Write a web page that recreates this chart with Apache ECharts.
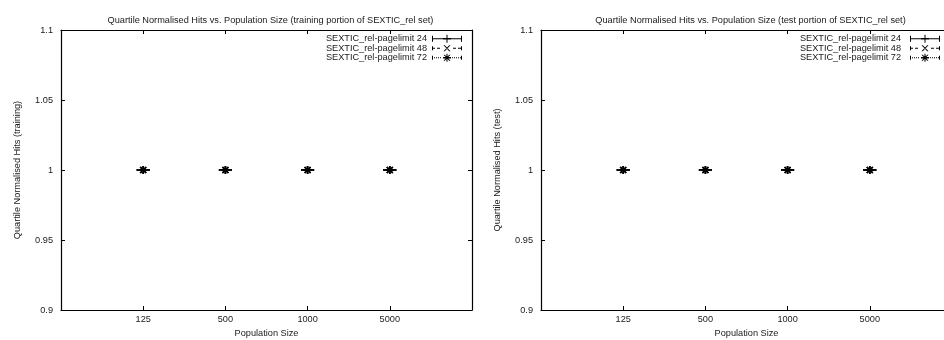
<!DOCTYPE html>
<html>
<head>
<meta charset="utf-8">
<script src="https://cdn.jsdelivr.net/npm/echarts@6/dist/echarts.min.js"></script>
<style>
html,body{margin:0;padding:0;background:#fff;}
#chart{width:944px;height:340px;}
</style>
</head>
<body>
<div id="chart"></div>
<script>
// ---- data ----
const popLabels = ['125', '500', '1000', '5000'];
const popIndex = [1, 2, 3, 4];
const seriesNames = ['SEXTIC_rel-pagelimit 24', 'SEXTIC_rel-pagelimit 48', 'SEXTIC_rel-pagelimit 72'];
// training panel
const trainPL24 = [1, 1, 1, 1];
const trainPL48 = [1, 1, 1, 1];
const trainPL72 = [1, 1, 1, 1];
const trainLow24 = [1, 1, 1, 1], trainHigh24 = [1, 1, 1, 1];
const trainLow48 = [1, 1, 1, 1], trainHigh48 = [1, 1, 1, 1];
const trainLow72 = [1, 1, 1, 1], trainHigh72 = [1, 1, 1, 1];
// test panel
const testPL24 = [1, 1, 1, 1];
const testPL48 = [1, 1, 1, 1];
const testPL72 = [1, 1, 1, 1];
const testLow24 = [1, 1, 1, 1], testHigh24 = [1, 1, 1, 1];
const testLow48 = [1, 1, 1, 1], testHigh48 = [1, 1, 1, 1];
const testLow72 = [1, 1, 1, 1], testHigh72 = [1, 1, 1, 1];
const yTicks = [0.9, 0.95, 1, 1.05, 1.1];

const titles = [
  'Quartile Normalised Hits vs. Population Size (training portion of SEXTIC_rel set)',
  'Quartile Normalised Hits vs. Population Size (test portion of SEXTIC_rel set)'
];
const yNames = ['Quartile Normalised Hits (training)', 'Quartile Normalised Hits (test)'];
const xName = 'Population Size';

// ---- styling ----
const FONT = 'Liberation Sans, Arial, sans-serif';
const FS = 9.2;
const TXT = '#1a1a1a';

function rect(x, y, w, h) { return 'M' + x + ',' + y + 'h' + w + 'v' + h + 'h' + (-w) + 'Z'; }
function quad(a, b, c, d) { return 'M' + a + 'L' + b + 'L' + c + 'L' + d + 'Z'; }
const plusIcon = rect(14.5, 0, 1, 8) + rect(11, 3.3, 8, 1.4);
const crossIcon = quad('11.5,1', '12.8,1', '18.5,7', '17.2,7') + quad('17.2,1', '18.5,1', '12.8,7', '11.5,7');
const icon24 = 'path://' + rect(0, 3.5, 30, 1) + rect(0, 1, 1, 6) + rect(29, 1, 1, 6) + plusIcon;
let dash = '';
[0, 5, 21, 26].forEach(x => { dash += rect(x, 3.5, 3, 1); });
const icon48 = 'path://' + dash + rect(0, 2, 1, 4) + rect(29, 2, 1, 4) + rect(0, 0, 0.01, 8) + crossIcon;
let dots = '';
[0, 2, 4, 6, 8, 20, 22, 24, 26, 28].forEach(x => { dots += rect(x, 3.5, 1, 1); });
const icon72 = 'path://' + dots + rect(0, 2, 1, 4) + rect(29, 2, 1, 4) + rect(0, 0, 0.01, 8) + plusIcon + crossIcon;
const icons = [icon24, icon48, icon72];

function makeRender(kind, dashArr) {
  return function (params, api) {
    const x = api.value(0), y = api.value(1), lo = api.value(2), hi = api.value(3);
    const p = api.coord([x, y]);
    const pl = api.coord([x, lo]);
    const ph = api.coord([x, hi]);
    const cw = 6.5;
    const ls = { stroke: '#000', lineWidth: 1, fill: null, lineDash: dashArr };
    const ms = { stroke: '#000', lineWidth: 1.7, fill: null };
    const ch = [
      { type: 'line', shape: { x1: pl[0], y1: pl[1], x2: ph[0], y2: ph[1] }, style: ls },
      { type: 'line', shape: { x1: pl[0] - cw, y1: pl[1], x2: pl[0] + cw, y2: pl[1] }, style: ls },
      { type: 'line', shape: { x1: ph[0] - cw, y1: ph[1], x2: ph[0] + cw, y2: ph[1] }, style: ls }
    ];
    const s = 4, d = 3;
    if (kind === 'plus' || kind === 'star') {
      ch.push({ type: 'line', shape: { x1: p[0] - s, y1: p[1], x2: p[0] + s, y2: p[1] }, style: ms });
      ch.push({ type: 'line', shape: { x1: p[0], y1: p[1] - s, x2: p[0], y2: p[1] + s }, style: ms });
    }
    if (kind === 'cross' || kind === 'star') {
      ch.push({ type: 'line', shape: { x1: p[0] - d, y1: p[1] - d, x2: p[0] + d, y2: p[1] + d }, style: ms });
      ch.push({ type: 'line', shape: { x1: p[0] - d, y1: p[1] + d, x2: p[0] + d, y2: p[1] - d }, style: ms });
    }
    return { type: 'group', children: ch };
  };
}
const kinds = ['plus', 'cross', 'star'];
const dashes = [null, [3, 2], [1, 1]];

function rows(vals, lo, hi) {
  return popIndex.map((xi, i) => [xi, vals[i], lo[i], hi[i]]);
}
const panelData = [
  [rows(trainPL24, trainLow24, trainHigh24), rows(trainPL48, trainLow48, trainHigh48), rows(trainPL72, trainLow72, trainHigh72)],
  [rows(testPL24, testLow24, testHigh24), rows(testPL48, testLow48, testHigh48), rows(testPL72, testLow72, testHigh72)]
];

const gridLefts = [61, 541];
const gridW = 411, gridTop = 30, gridH = 280;

const grids = [], xAxes = [], yAxes = [], series = [], titleArr = [], legends = [];
const tickStyle = { show: true, inside: true, length: 4, lineStyle: { color: '#000', width: 1 } };
const axLine = { show: true, onZero: false, lineStyle: { color: '#000', width: 1.2 } };

for (let g = 0; g < 2; g++) {
  grids.push({ left: gridLefts[g], top: gridTop, width: gridW, height: gridH, containLabel: false, outerBoundsMode: 'none' });
  titleArr.push({
    text: titles[g], left: gridLefts[g] + gridW / 2 - 1, top: 11, textAlign: 'center',
    textStyle: { fontFamily: FONT, fontSize: FS, fontWeight: 'normal', color: TXT }
  });
  // bottom x
  xAxes.push({
    type: 'value', gridIndex: g, position: 'bottom', min: 0, max: popLabels.length + 1, interval: 1,
    name: xName, nameLocation: 'middle', nameGap: 18,
    nameTextStyle: { fontFamily: FONT, fontSize: FS, color: TXT },
    axisLine: axLine, axisTick: tickStyle, splitLine: { show: false },
    axisLabel: {
      fontFamily: FONT, fontSize: FS, color: TXT, margin: 5,
      formatter: v => { const i = popIndex.indexOf(v); return i >= 0 ? popLabels[i] : ''; }
    }
  });
  // top x (ticks only)
  xAxes.push({
    type: 'value', gridIndex: g, position: 'top', min: 0, max: popLabels.length + 1, interval: 1,
    axisLine: axLine, axisTick: tickStyle, splitLine: { show: false }, axisLabel: { show: false }
  });
  yAxes.push({
    type: 'value', gridIndex: g, position: 'left', min: yTicks[0], max: yTicks[yTicks.length - 1], interval: 0.05,
    name: yNames[g], nameLocation: 'middle', nameGap: 39, nameRotate: 90,
    nameTextStyle: { fontFamily: FONT, fontSize: FS, color: TXT },
    axisLine: axLine, axisTick: tickStyle, splitLine: { show: false },
    axisLabel: { fontFamily: FONT, fontSize: FS, color: TXT, margin: 8 }
  });
  yAxes.push({
    type: 'value', gridIndex: g, position: 'right', min: yTicks[0], max: yTicks[yTicks.length - 1], interval: 0.05,
    axisLine: axLine, axisTick: tickStyle, splitLine: { show: false }, axisLabel: { show: false }
  });
  for (let s = 0; s < 3; s++) {
    series.push({
      type: 'custom', name: seriesNames[s],
      xAxisIndex: g * 2, yAxisIndex: g * 2,
      renderItem: makeRender(kinds[s], dashes[s]),
      itemStyle: { color: '#000' },
      encode: { x: 0, y: 1 },
      data: panelData[g][s], clip: false, silent: true
    });
  }
  legends.push({
    orient: 'vertical', align: 'right', padding: 0,
    right: g === 0 ? 482 : 4, top: 34,
    itemWidth: g === 0 ? 30 : 38, itemHeight: 8, itemGap: 0,
    selectedMode: false,
    textStyle: { fontFamily: FONT, fontSize: FS, color: TXT, lineHeight: 9.5, padding: 0 },
    data: seriesNames.map((n, i) => ({ name: n, icon: icons[i], itemStyle: { color: '#000' } }))
  });
}

const chart = echarts.init(document.getElementById('chart'), null, { renderer: 'canvas' });
chart.setOption({
  animation: false,
  backgroundColor: '#fff',
  title: titleArr,
  legend: legends,
  grid: grids,
  xAxis: xAxes,
  yAxis: yAxes,
  series: series
});
</script>
</body>
</html>
